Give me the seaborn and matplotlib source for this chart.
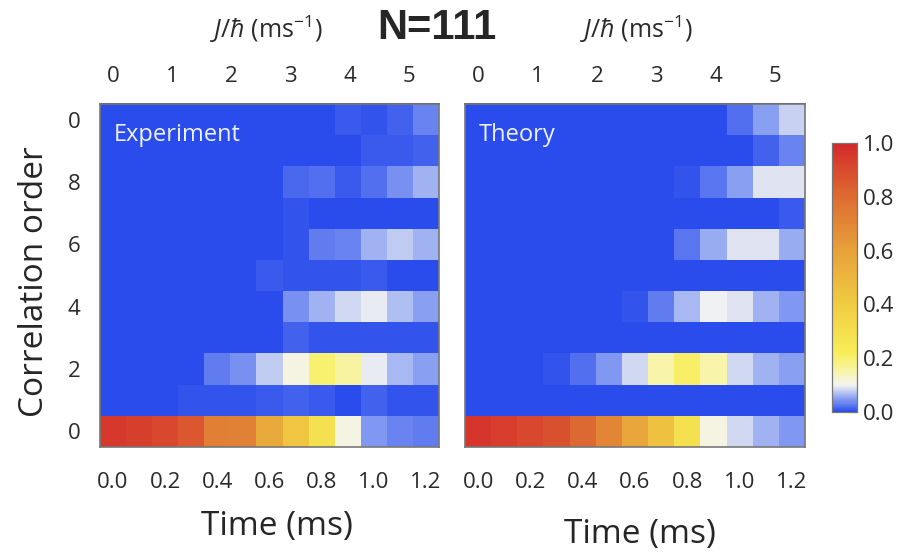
import numpy as np
import matplotlib
matplotlib.use("Agg")
import matplotlib.pyplot as plt
import seaborn as sns
from matplotlib.colors import LinearSegmentedColormap

sns.set_theme(style="white")
plt.rcParams['font.family'] = ['Open Sans', 'DejaVu Sans']
plt.rcParams['mathtext.fontset'] = 'custom'
plt.rcParams['mathtext.rm'] = 'Open Sans'
plt.rcParams['mathtext.it'] = 'Open Sans:italic'

# ---------------- data ----------------
times = [0.0, 0.1, 0.2, 0.3, 0.4, 0.5, 0.6, 0.7, 0.8, 0.9, 1.0, 1.1, 1.2]
orders = list(range(11))  # correlation order 0..10 (bottom to top)
time_tick_labels = ["0.0", "", "0.2", "", "0.4", "", "0.6", "", "0.8", "", "1.0", "", "1.2"]
order_tick_labels = ["0", "", "2", "", "4", "", "6", "", "8", "", "0"]
J_ticks = [0, 1, 2, 3, 4, 5]
J_over_hbar = 4.4  # ms^-1
cbar_ticks = [0.0, 0.2, 0.4, 0.6, 0.8, 1.0]

# rows: order 0 .. 10
experiment = [
    [0.95, 0.93, 0.91, 0.86, 0.73, 0.72, 0.56, 0.43, 0.29, 0.11, 0.045, 0.032, 0.028],
    [0.0, 0.0, 0.0, 0.004, 0.005, 0.006, 0.01, 0.014, 0.01, 0.001, 0.013, 0.004, 0.004],
    [0.0, 0.0, 0.0, 0.001, 0.03, 0.04, 0.075, 0.11, 0.2, 0.16, 0.095, 0.065, 0.05],
    [0.0, 0.0, 0.0, 0.0, 0.0, 0.001, 0.003, 0.015, 0.005, 0.005, 0.006, 0.004, 0.005],
    [0.0, 0.0, 0.0, 0.0, 0.0, 0.0, 0.001, 0.04, 0.06, 0.085, 0.095, 0.07, 0.05],
    [0.0, 0.0, 0.0, 0.0, 0.0, 0.0, 0.01, 0.004, 0.005, 0.005, 0.008, 0.003, 0.003],
    [0.0, 0.0, 0.0, 0.0, 0.0, 0.0, 0.0, 0.004, 0.03, 0.035, 0.06, 0.075, 0.06],
    [0.0, 0.0, 0.0, 0.0, 0.0, 0.0, 0.0, 0.005, 0.001, 0.001, 0.002, 0.002, 0.001],
    [0.0, 0.0, 0.0, 0.0, 0.0, 0.0, 0.0, 0.016, 0.022, 0.01, 0.022, 0.04, 0.06],
    [0.0, 0.0, 0.0, 0.0, 0.0, 0.0, 0.0, 0.0, 0.003, 0.003, 0.009, 0.01, 0.013],
    [0.0, 0.0, 0.0, 0.0, 0.0, 0.0, 0.0, 0.0, 0.003, 0.009, 0.005, 0.015, 0.035],
]

theory = [
    [0.96, 0.94, 0.91, 0.88, 0.81, 0.70, 0.58, 0.45, 0.29, 0.11, 0.085, 0.06, 0.045],
    [0.0, 0.0, 0.0, 0.0, 0.0, 0.0, 0.0, 0.0, 0.0, 0.0, 0.0, 0.0, 0.0],
    [0.0, 0.0, 0.0, 0.004, 0.02, 0.045, 0.085, 0.15, 0.21, 0.15, 0.085, 0.06, 0.05],
    [0.0, 0.0, 0.0, 0.0, 0.0, 0.0, 0.0, 0.0, 0.0, 0.0, 0.0, 0.0, 0.0],
    [0.0, 0.0, 0.0, 0.0, 0.0, 0.0, 0.005, 0.03, 0.065, 0.1, 0.09, 0.06, 0.045],
    [0.0, 0.0, 0.0, 0.0, 0.0, 0.0, 0.0, 0.0, 0.0, 0.0, 0.0, 0.0, 0.0],
    [0.0, 0.0, 0.0, 0.0, 0.0, 0.0, 0.0, 0.003, 0.025, 0.055, 0.09, 0.09, 0.055],
    [0.0, 0.0, 0.0, 0.0, 0.0, 0.0, 0.0, 0.0, 0.0, 0.0, 0.0, 0.0, 0.008],
    [0.0, 0.0, 0.0, 0.0, 0.0, 0.0, 0.0, 0.0, 0.005, 0.025, 0.05, 0.09, 0.09],
    [0.0, 0.0, 0.0, 0.0, 0.0, 0.0, 0.0, 0.0, 0.0, 0.0, 0.003, 0.012, 0.035],
    [0.0, 0.0, 0.0, 0.0, 0.0, 0.0, 0.0, 0.0, 0.0, 0.0, 0.02, 0.05, 0.08],
]

# ---------------- style ----------------
cmap = LinearSegmentedColormap.from_list(
    "mq",
    [(0.0, "#2a4cec"), (0.05, "#8ea4f2"), (0.1, "#f4f4f2"), (0.15, "#f8f4a8"),
     (0.22, "#f8ee58"), (0.4, "#f0cc42"), (0.6, "#e7a23a"), (0.8, "#dd6c32"),
     (1.0, "#d4282a")])

W, H = 902, 552
fig = plt.figure(figsize=(W / 100, H / 100), dpi=100)
fig.patch.set_facecolor("white")

ax1 = fig.add_axes([100 / W, 1 - 447 / H, 339 / W, 343 / H])
ax2 = fig.add_axes([465 / W, 1 - 447 / H, 340 / W, 343 / H])
cax = fig.add_axes([832 / W, 1 - 412 / H, 25 / W, 269 / H])

edge = "#777777"
txt = "#2a2a2a"
tick_fs = 16


def draw(ax, values, name, cbar, ylabels):
    arr = np.array(values)[::-1]  # top row = order 10
    sns.heatmap(arr, ax=ax, cmap=cmap, vmin=0, vmax=1, cbar=cbar,
                cbar_ax=cax if cbar else None, linewidths=0,
                xticklabels=False, yticklabels=False)
    ax.set_xticks(np.arange(len(times)) + 0.5)
    ax.set_xticklabels(time_tick_labels, fontsize=tick_fs, color=txt)
    ax.set_yticks(np.arange(len(orders)) + 0.5)
    if ylabels:
        ax.set_yticklabels(order_tick_labels[::-1], fontsize=tick_fs, color=txt, rotation=0)
    else:
        ax.set_yticklabels([""] * len(orders))
    ax.tick_params(axis="both", direction="in", length=4, width=0.8, color=edge)
    ax.tick_params(axis="x", pad=18)
    ax.tick_params(axis="y", pad=14)
    for s in ax.spines.values():
        s.set_visible(True)
        s.set_color(edge)
        s.set_linewidth(1.2)
    sec = ax.secondary_xaxis("top", functions=(lambda x: (x - 0.5) * 0.1 * J_over_hbar,
                                                lambda j: j / (0.1 * J_over_hbar) + 0.5))
    sec.set_xticks(J_ticks)
    sec.set_xticklabels([str(j) for j in J_ticks], fontsize=tick_fs, color=txt)
    sec.tick_params(direction="in", length=4, width=0.8, color=edge, pad=12)
    ax.text(0.04, 0.91, name, transform=ax.transAxes, color="white",
            fontsize=17, ha="left", va="center", alpha=0.92)
    ax.set_xlabel("")
    ax.set_ylabel("")


draw(ax1, experiment, "Experiment", False, True)
draw(ax2, theory, "Theory", True, False)

cax.set_yticks(cbar_ticks)
cax.set_yticklabels([f"{v:.1f}" for v in cbar_ticks], fontsize=tick_fs, color=txt)
cax.tick_params(axis="y", direction="in", length=4, width=0.8, color="#555555", pad=4)
for s in cax.spines.values():
    s.set_visible(True)
    s.set_color(edge)
    s.set_linewidth(0.8)

fig.text(277 / W, 1 - 527 / H, "Time (ms)", fontsize=24, ha="center", va="center")
fig.text(640 / W, 1 - 534 / H, "Time (ms)", fontsize=24, ha="center", va="center")
fig.text(35 / W, 1 - 282 / H, "Correlation order", fontsize=24, ha="center", va="center",
         rotation=90)
fig.text(437 / W, 1 - 28 / H, "N=111", fontsize=30, fontweight="bold", ha="center",
         va="center", family="Liberation Sans")
fig.text(266 / W, 1 - 29 / H, r"$J/\hbar$ (ms$^{-1}$)", fontsize=18, ha="center",
         va="center", color=txt)
fig.text(636 / W, 1 - 29 / H, r"$J/\hbar$ (ms$^{-1}$)", fontsize=18, ha="center",
         va="center", color=txt)

fig.savefig("out.png", dpi=100, facecolor="white")
